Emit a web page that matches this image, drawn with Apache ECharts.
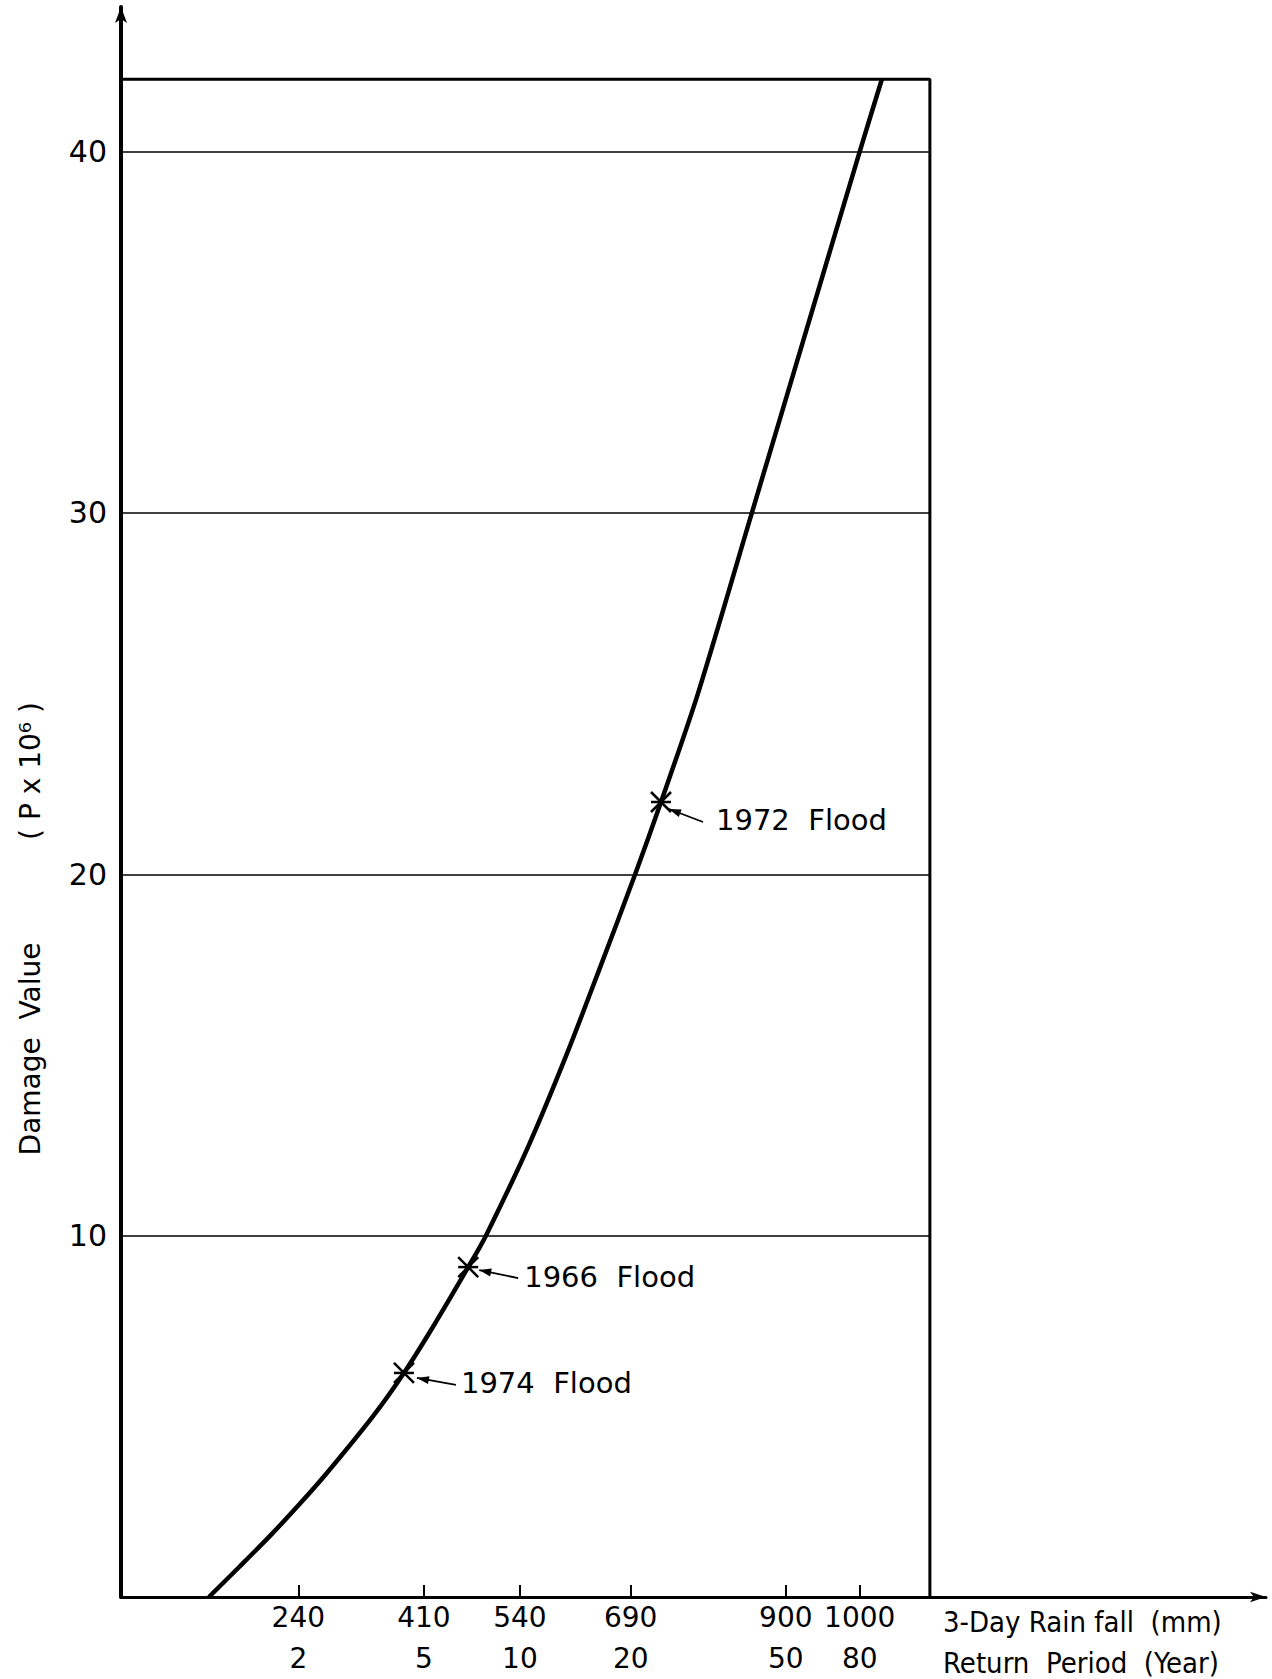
<!DOCTYPE html>
<html>
<head>
<meta charset="utf-8">
<title>Damage Value vs 3-Day Rainfall</title>
<script src="https://cdn.jsdelivr.net/npm/echarts@6/dist/echarts.min.js"></script>
<style>
  html, body { margin: 0; padding: 0; background: #fff; }
  #chart { width: 1272px; height: 1679px; }
</style>
</head>
<body>
<div id="chart"></div>
<script>
// x axis ticks: 3-day rainfall (mm) and the matching return period (year)
const rainTicks = [240, 410, 540, 690, 900, 1000];
const returnPeriods = [2, 5, 10, 20, 50, 80];
// y axis ticks: damage value (P x 10^6)
const damageTicks = [10, 20, 30, 40];

// damage curve
const curveRain = [119, 160, 204, 243, 277, 341, 383, 423, 470, 494, 552, 603, 650, 696, 731, 781, 854, 927, 1000, 1030];
const curveDamage = [0, 0.83, 1.74, 2.6, 3.39, 5, 6.2, 7.5, 9.13, 10, 12.5, 15, 17.5, 20, 22, 25, 30, 35, 40, 42];

// historical floods on the curve
const floodNames = ['1974  Flood', '1966  Flood', '1972  Flood'];
const floodRain = [383, 470, 731];
const floodDamage = [6.2, 9.13, 22];

// box drawn round the plot
const frameRain = 1095;
const frameDamage = 42;

// pixel offsets of the flood arrows / labels from their point
const floodLayout = [
  { head: [13, 5], tail: [52, 12], text: [57, 10] },
  { head: [11, 3], tail: [50, 11], text: [56, 10] },
  { head: [8, 7], tail: [42, 20], text: [55, 18] }
];

const FONT = '"DejaVu Sans", "Noto Sans", sans-serif';
const NARROW = '"DejaVu Sans Condensed", "Liberation Sans Narrow", "DejaVu Sans", sans-serif';

const chart = echarts.init(document.getElementById('chart'), null, { renderer: 'svg' });

const option = {
  backgroundColor: '#fff',
  animation: false,
  grid: { left: 121, right: 6, top: 7, bottom: 77 },
  xAxis: {
    type: 'value',
    min: 0,
    max: 1550,
    axisLine: {
      lineStyle: { color: '#000', width: 3 },
      symbol: ['none', 'arrow'],
      symbolSize: [8, 16]
    },
    axisTick: {
      inside: true,
      length: 12,
      customValues: rainTicks,
      lineStyle: { color: '#000', width: 2 }
    },
    axisLabel: {
      customValues: rainTicks,
      margin: 0,
      color: '#000',
      fontFamily: FONT,
      fontSize: 28,
      lineHeight: 41,
      formatter: function (v) {
        const i = rainTicks.indexOf(v);
        return rainTicks[i] + '\n' + returnPeriods[i];
      }
    },
    splitLine: { show: false }
  },
  yAxis: {
    type: 'value',
    min: 0,
    max: 44,
    interval: 10,
    axisLine: {
      lineStyle: { color: '#000', width: 4 },
      symbol: ['none', 'arrow'],
      symbolSize: [9, 16]
    },
    axisTick: { show: false },
    axisLabel: {
      customValues: damageTicks,
      margin: 14,
      color: '#000',
      fontFamily: FONT,
      fontSize: 30
    },
    splitLine: { show: false }
  },
  graphic: [
    {
      type: 'text', x: 30, y: 1049, rotation: Math.PI / 2,
      style: { text: 'Damage  Value', font: '28px ' + FONT, fill: '#000', align: 'center', verticalAlign: 'middle' }
    },
    {
      type: 'text', x: 30, y: 771, rotation: Math.PI / 2,
      style: { text: '( P x 10\u2076 )', font: '28px ' + FONT, fill: '#000', align: 'center', verticalAlign: 'middle' }
    },
    {
      type: 'text', x: 943, y: 1622,
      style: { text: '3-Day Rain fall  (mm)', font: '29px ' + NARROW, fill: '#000', align: 'left', verticalAlign: 'middle' }
    },
    {
      type: 'text', x: 943, y: 1663,
      style: { text: 'Return  Period  (Year)', font: '29px ' + NARROW, fill: '#000', align: 'left', verticalAlign: 'middle' }
    }
  ],
  series: [
    {
      name: 'frame',
      type: 'line',
      data: [[0, frameDamage], [frameRain, frameDamage], [frameRain, 0]],
      symbol: 'none',
      silent: true,
      lineStyle: { color: '#000', width: 3 },
      markLine: {
        silent: true,
        symbol: 'none',
        label: { show: false },
        lineStyle: { color: '#000', width: 1.5, type: 'solid' },
        data: damageTicks.map(v => [{ coord: [0, v] }, { coord: [frameRain, v] }])
      }
    },
    {
      name: 'Damage',
      type: 'line',
      data: curveRain.map((r, i) => [r, curveDamage[i]]),
      smooth: 0.3,
      symbol: 'none',
      lineStyle: { color: '#000', width: 4.5 }
    },
    {
      name: 'Floods',
      type: 'custom',
      data: floodRain.map((r, i) => [r, floodDamage[i]]),
      renderItem: function (params, api) {
        const p = api.coord([api.value(0), api.value(1)]);
        const lay = floodLayout[params.dataIndex];
        const s = 10;
        const hx = p[0] + lay.head[0], hy = p[1] + lay.head[1];
        const tx = p[0] + lay.tail[0], ty = p[1] + lay.tail[1];
        const ang = Math.atan2(ty - hy, tx - hx);
        const al = 12, aw = 4;
        const bx = hx + al * Math.cos(ang), by = hy + al * Math.sin(ang);
        const stroke = { stroke: '#000', lineWidth: 2.5 };
        return {
          type: 'group',
          children: [
            { type: 'line', shape: { x1: p[0] - s, y1: p[1] - s, x2: p[0] + s, y2: p[1] + s }, style: stroke },
            { type: 'line', shape: { x1: p[0] - s, y1: p[1] + s, x2: p[0] + s, y2: p[1] - s }, style: stroke },
            { type: 'line', shape: { x1: p[0] - s, y1: p[1], x2: p[0] + s, y2: p[1] }, style: stroke },
            { type: 'line', shape: { x1: hx, y1: hy, x2: tx, y2: ty }, style: { stroke: '#000', lineWidth: 1.8 } },
            {
              type: 'polygon',
              shape: {
                points: [
                  [hx, hy],
                  [bx - aw * Math.sin(ang), by + aw * Math.cos(ang)],
                  [bx + aw * Math.sin(ang), by - aw * Math.cos(ang)]
                ]
              },
              style: { fill: '#000' }
            },
            {
              type: 'text',
              x: p[0] + lay.text[0],
              y: p[1] + lay.text[1],
              style: {
                text: floodNames[params.dataIndex],
                font: '29px ' + FONT,
                fill: '#000',
                align: 'left',
                verticalAlign: 'middle'
              }
            }
          ]
        };
      }
    }
  ]
};

chart.setOption(option);
</script>
</body>
</html>
